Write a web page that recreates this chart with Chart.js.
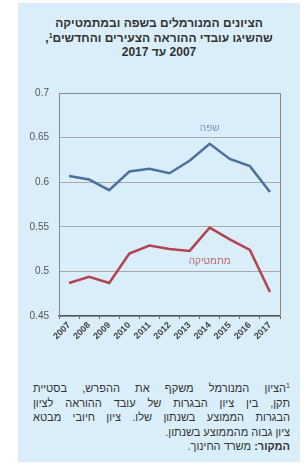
<!DOCTYPE html>
<html>
<head>
<meta charset="utf-8">
<script src="https://cdn.jsdelivr.net/npm/chart.js@4"></script>
<style>
body{margin:0;width:304px;height:464px;background:#fff;font-family:"Liberation Sans","DejaVu Sans",sans-serif;overflow:hidden}
#panel{position:absolute;left:18px;top:3px;width:282px;height:459px;background:#d9eef9}
#title{position:absolute;left:18px;top:16px;width:282px;text-align:center;direction:rtl;font-weight:bold;font-size:12px;line-height:14.5px;color:#333}
#box{position:absolute;left:18px;top:77px;width:282px;height:269px}
#note{position:absolute;left:33px;top:381px;width:257px;direction:rtl;font-size:11px;line-height:14.5px;color:#333}
#note div{text-align:right;height:14.5px}
#note .j{text-align:justify;text-align-last:justify}
sup{font-size:7px;line-height:0;vertical-align:4px}
</style>
</head>
<body>
<div id="panel"></div>
<div id="title">הציונים המנורמלים בשפה ובמתמטיקה<br>שהשיגו עובדי ההוראה הצעירים והחדשים<sup>1</sup>,<br>2007 עד 2017</div>
<div id="box"><canvas id="c"></canvas></div>
<div id="note">
<div class="j"><sup>1</sup>הציון המנורמל משקף את ההפרש, בסטיית</div>
<div class="j">תקן, בין ציון הבגרות של עובד ההוראה לציון</div>
<div class="j">הבגרות הממוצע בשנתון שלו. ציון חיובי מבטא</div>
<div>ציון גבוה מהממוצע בשנתון.</div>
<div><b>המקור:</b> משרד החינוך.</div>
</div>
<script>
// data
const years = ["2007","2008","2009","2010","2011","2012","2013","2014","2015","2016","2017"]
const language = [0.607,0.603,0.591,0.612,0.615,0.610,0.624,0.643,0.626,0.618,0.589]
const math = [0.487,0.494,0.487,0.520,0.529,0.525,0.523,0.549,0.536,0.524,0.477]
const yTickLabels = ["0.45","0.5","0.55","0.6","0.65","0.7"]
const seriesNames = ["שפה","מתמטיקה"]

const blue = "#4f6f9f"
const red = "#b3434e"

// frame round the plot + the in-chart series labels
const decor = {
    id: "decor",
    afterDraw(chart){
        const ctx = chart.ctx
        const a = chart.chartArea
        const x = chart.scales.x
        const y = chart.scales.y
        ctx.save()
        ctx.strokeStyle = "#8a8a8a"
        ctx.lineWidth = 1
        ctx.strokeRect(a.left + 0.5, a.top + 0.5, a.right - a.left, a.bottom - a.top)
        ctx.font = "10px 'Liberation Sans', 'DejaVu Sans'"
        ctx.textAlign = "center"
        ctx.textBaseline = "middle"
        ctx.fillStyle = "#8497b8"
        ctx.fillText(seriesNames[0], x.getPixelForValue(7), y.getPixelForValue(0.66))
        ctx.fillStyle = "#b86a70"
        ctx.fillText(seriesNames[1], x.getPixelForValue(7), y.getPixelForValue(0.511))
        ctx.restore()
    }
}

new Chart(document.getElementById("c"), {
    type: "line",
    data: {
        labels: years,
        datasets: [
            {label: seriesNames[0], data: language, borderColor: blue, borderWidth: 2.5, pointRadius: 0, tension: 0},
            {label: seriesNames[1], data: math, borderColor: red, borderWidth: 2.5, pointRadius: 0, tension: 0}
        ]
    },
    options: {
        responsive: true,
        maintainAspectRatio: false,
        animation: false,
        layout: {padding: {top: 2, right: 20, left: 0, bottom: 0}},
        plugins: {legend: {display: false}, tooltip: {enabled: false}},
        scales: {
            x: {
                offset: true,
                grid: {offset: true, drawOnChartArea: false, color: "#666", tickLength: 3},
                border: {color: "#555", width: 1.5},
                ticks: {
                    color: "#444", minRotation: 45, maxRotation: 45, padding: 1,
                    font: {size: 9, weight: "bold", family: "'Liberation Sans', 'DejaVu Sans'"}
                },
                afterFit(s){ s.height = 30 }
            },
            y: {
                min: 0.45, max: 0.7,
                ticks: {
                    stepSize: 0.05, color: "#555", padding: 10,
                    font: {size: 10, family: "'Liberation Sans', 'DejaVu Sans'"},
                    callback: (v, i) => yTickLabels[i]
                },
                grid: {color: "#aaa", drawTicks: false},
                border: {color: "#8a8a8a"},
                afterFit(s){ s.width = 41 }
            }
        }
    },
    plugins: [decor]
})
</script>
</body>
</html>
